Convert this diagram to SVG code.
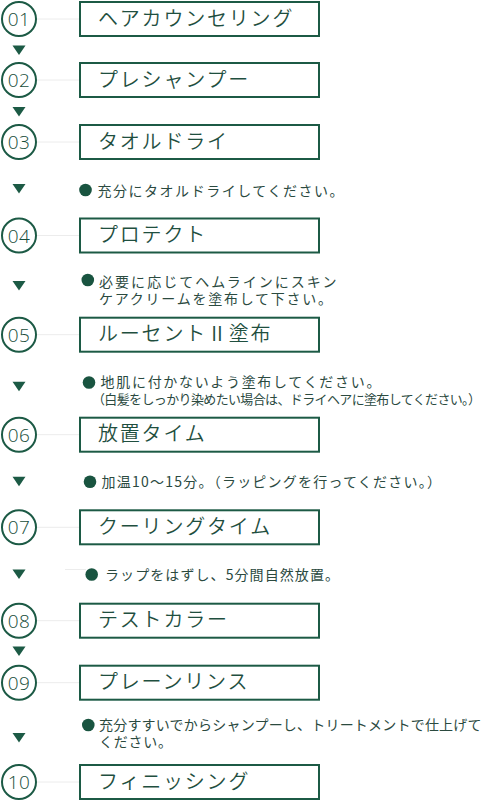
<svg xmlns="http://www.w3.org/2000/svg" xmlns:xlink="http://www.w3.org/1999/xlink" width="481" height="801" viewBox="0 0 481 801">
<style>
.box{fill:#fff;stroke:#1c5a45;stroke-width:2}
.num{fill:#fff;stroke:#1c5a45;stroke-width:2}
.numt{font-family:"Open Sans","Noto Sans",sans-serif;font-weight:300;font-size:19px;fill:#174d3a;text-anchor:middle;letter-spacing:0.5px}
.lbl{font-family:"Noto Sans CJK JP","Noto Sans",sans-serif;font-weight:350;font-size:20px;fill:#1f4f3f;letter-spacing:1.8px}
.note{font-family:"Noto Sans CJK JP","Noto Sans",sans-serif;font-size:14px;fill:#2b4a3f}
.dot{fill:#195440}
.link{stroke:#ececec;stroke-width:1;fill:none}
.arr{fill:#1c5a45}
</style>
<defs>
<path id="tri" d="M12.5,0 L25.5,0 L19,9.5 Z"/>
</defs>
<rect width="481" height="801" fill="#fff"/>
<g id="connectors">
<line class="link" x1="37" y1="19" x2="79" y2="19"/>
<line class="link" x1="37" y1="80" x2="79" y2="80"/>
<line class="link" x1="37" y1="142" x2="79" y2="142"/>
<line class="link" x1="37" y1="235.5" x2="79" y2="235.5"/>
<line class="link" x1="37" y1="334.7" x2="79" y2="334.7"/>
<line class="link" x1="37" y1="434.7" x2="79" y2="434.7"/>
<line class="link" x1="37" y1="527.3" x2="79" y2="527.3"/>
<line class="link" x1="37" y1="620.7" x2="79" y2="620.7"/>
<line class="link" x1="37" y1="682.7" x2="79" y2="682.7"/>
<line class="link" x1="37" y1="782" x2="79" y2="782"/>
<line class="link" x1="65" y1="569.5" x2="86" y2="569.5"/>
<use href="#tri" class="arr" y="45.5"/>
<use href="#tri" class="arr" y="107"/>
<use href="#tri" class="arr" y="184"/>
<use href="#tri" class="arr" y="281"/>
<use href="#tri" class="arr" y="381.7"/>
<use href="#tri" class="arr" y="476.7"/>
<use href="#tri" class="arr" y="569.5"/>
<use href="#tri" class="arr" y="646.5"/>
<use href="#tri" class="arr" y="733"/>
</g>
<g id="step01"><circle class="num" cx="19" cy="19" r="17"/><text class="numt" x="19" y="26">01</text><rect class="box" x="80" y="2" width="239" height="34"/><text class="lbl" x="98" y="25.5">ヘアカウンセリング</text></g>
<g id="step02"><circle class="num" cx="19" cy="80" r="17"/><text class="numt" x="19" y="87">02</text><rect class="box" x="80" y="63" width="239" height="34"/><text class="lbl" x="98" y="86.5">プレシャンプー</text></g>
<g id="step03"><circle class="num" cx="19" cy="142" r="17"/><text class="numt" x="19" y="149">03</text><rect class="box" x="80" y="125" width="239" height="34"/><text class="lbl" x="98" y="148.5">タオルドライ</text></g>
<g id="note03"><circle class="dot" cx="85.5" cy="190" r="6.3"/><text class="note" x="97.5" y="195.5" textLength="246" lengthAdjust="spacing">充分にタオルドライしてください。</text></g>
<g id="step04"><circle class="num" cx="19" cy="235.5" r="17"/><text class="numt" x="19" y="242.5">04</text><rect class="box" x="80" y="218.5" width="239" height="34"/><text class="lbl" x="98" y="242">プロテクト</text></g>
<g id="note04"><circle class="dot" cx="87.8" cy="280" r="6.3"/><text class="note" x="99" y="286.5" textLength="237.5" lengthAdjust="spacing">必要に応じてヘムラインにスキン</text><text class="note" x="99" y="304" textLength="233" lengthAdjust="spacing">ケアクリームを塗布して下さい。</text></g>
<g id="step05"><circle class="num" cx="19" cy="334.7" r="17"/><text class="numt" x="19" y="341.7">05</text><rect class="box" x="80" y="317.7" width="239" height="34"/><text class="lbl" x="98" y="341.2">ルーセントⅡ塗布</text></g>
<g id="note05"><circle class="dot" cx="89" cy="382.5" r="6.3"/><text class="note" x="100.5" y="387" textLength="280" lengthAdjust="spacing">地肌に付かないよう塗布してください。</text><text class="note" x="92" y="404" style="font-size:13px" textLength="389" lengthAdjust="spacing">（白髪をしっかり染めたい場合は、ドライヘアに塗布してください。）</text></g>
<g id="step06"><circle class="num" cx="19" cy="434.7" r="17"/><text class="numt" x="19" y="441.7">06</text><rect class="box" x="80" y="417.7" width="239" height="34"/><text class="lbl" x="98" y="441.2">放置タイム</text></g>
<g id="note06"><circle class="dot" cx="90" cy="481.7" r="6.3"/><text class="note" x="101.5" y="487" textLength="339.5" lengthAdjust="spacing">加温10〜15分。（ラッピングを行ってください。）</text></g>
<g id="step07"><circle class="num" cx="19" cy="527.3" r="17"/><text class="numt" x="19" y="534.3">07</text><rect class="box" x="80" y="510.3" width="239" height="34"/><text class="lbl" x="98" y="533.8">クーリングタイム</text></g>
<g id="note07"><circle class="dot" cx="91.7" cy="574.5" r="6.3"/><text class="note" x="105" y="579.5" textLength="234" lengthAdjust="spacing">ラップをはずし、5分間自然放置。</text></g>
<g id="step08"><circle class="num" cx="19" cy="620.7" r="17"/><text class="numt" x="19" y="627.7">08</text><rect class="box" x="80" y="603.7" width="239" height="34"/><text class="lbl" x="98" y="627.2">テストカラー</text></g>
<g id="step09"><circle class="num" cx="19" cy="682.7" r="17"/><text class="numt" x="19" y="689.7">09</text><rect class="box" x="80" y="665.7" width="239" height="34"/><text class="lbl" x="98" y="689.2">プレーンリンス</text></g>
<g id="note09"><circle class="dot" cx="88.3" cy="725" r="6.3"/><text class="note" x="99" y="730" textLength="382.5" lengthAdjust="spacing">充分すすいでからシャンプーし、トリートメントで仕上げて</text><text class="note" x="99" y="746.8" textLength="73" lengthAdjust="spacing">ください。</text></g>
<g id="step10"><circle class="num" cx="19" cy="782" r="17"/><text class="numt" x="19" y="789">10</text><rect class="box" x="80" y="765" width="239" height="34"/><text class="lbl" x="98" y="788.5">フィニッシング</text></g>
</svg>
